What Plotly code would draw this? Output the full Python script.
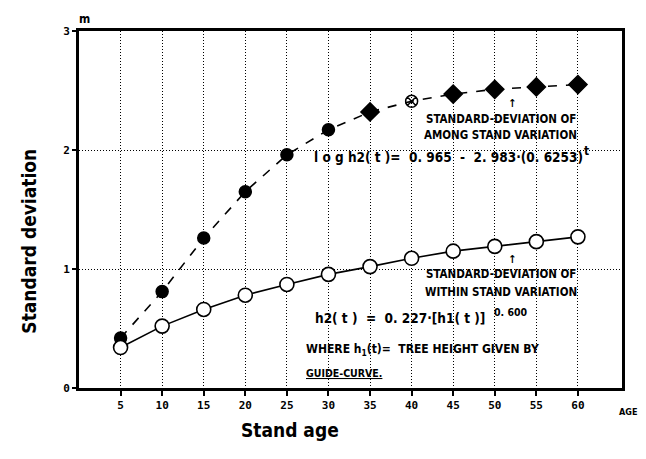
import plotly.graph_objects as go

ages = [5, 10, 15, 20, 25, 30, 35, 40, 45, 50, 55, 60]
among_sd = [0.42, 0.81, 1.26, 1.65, 1.96, 2.17, 2.32, 2.41, 2.47, 2.51, 2.53, 2.55]
within_sd = [0.34, 0.52, 0.66, 0.78, 0.87, 0.955, 1.02, 1.09, 1.15, 1.19, 1.23, 1.27]
x_ticks = [5, 10, 15, 20, 25, 30, 35, 40, 45, 50, 55, 60]
y_ticks = [0, 1, 2, 3]

among_symbols = ["circle"] * 6 + ["diamond"] + ["circle-x-open"] + ["diamond"] * 4
among_sizes = [12] * 6 + [14, 12] + [14] * 4

fig = go.Figure()

fig.add_trace(go.Scatter(
    x=ages, y=among_sd, mode="lines+markers",
    line=dict(color="black", width=1.6, dash="dash"),
    marker=dict(symbol=among_symbols, size=among_sizes, opacity=1,
                color="black", line=dict(color="black", width=1.5)),
    showlegend=False,
))
fig.add_trace(go.Scatter(
    x=ages, y=within_sd, mode="lines+markers",
    line=dict(color="black", width=1.6),
    marker=dict(symbol="circle", size=14, color="white", opacity=1,
                line=dict(color="black", width=1.6)),
    showlegend=False,
))

font_main = "DejaVu Sans Condensed, DejaVu Sans"
font_mono = "DejaVu Sans Mono"

ann = []
def txt(x, y, s, size=11.5, xanchor="left", xref="x", yref="y", **kw):
    ann.append(dict(x=x, y=y, xref=xref, yref=yref, text=s, showarrow=False,
                    xanchor=xanchor, yanchor="middle",
                    font=dict(family=font_main, size=size, color="black"), **kw))

# Among stand annotation
txt(52.1, 2.39, "<b>↑</b>", size=11, xanchor="center")
txt(50.7, 2.26, "<b>STANDARD-DEVIATION OF</b>", xanchor="center")
txt(50.7, 2.13, "<b>AMONG STAND VARIATION</b>", xanchor="center")
txt(28.0, 1.94, "<b>l o g h2( t )=  0. 965  -  2. 983·(0. 6253)</b>", size=13.5)
txt(61.0, 1.99, "<b>t</b>", size=12, xanchor="center")

# Within stand annotation
txt(52.1, 1.08, "<b>↑</b>", size=11, xanchor="center")
txt(50.8, 0.96, "<b>STANDARD-DEVIATION OF</b>", xanchor="center")
txt(50.8, 0.81, "<b>WITHIN STAND VARIATION</b>", xanchor="center")
txt(28.1, 0.59, "<b>h2( t )  =  0. 227·[h1( t )]</b>", size=13.5)
txt(51.9, 0.64, "<b>0. 600</b>", size=10.5, xanchor="center")
txt(27.1, 0.32, "<b>WHERE h<sub>1</sub>(t)=  TREE HEIGHT GIVEN BY</b>", size=12)
txt(27.1, 0.13, "<b><u>GUIDE-CURVE.</u></b>", size=10.5)

ann.append(dict(x=0.011, y=1.035, xref="paper", yref="paper", text="<b>m</b>",
                showarrow=False, xanchor="center", yanchor="middle",
                font=dict(family=font_main, size=12, color="black")))
ann.append(dict(x=1.011, y=-0.066, xref="paper", yref="paper", text="<b>AGE</b>",
                showarrow=False, xanchor="center", yanchor="middle",
                font=dict(family=font_main, size=9, color="black")))
ann.append(dict(x=-0.092, y=0.41, xref="paper", yref="paper",
                text="<b>Standard deviation</b>", textangle=-90,
                showarrow=False, xanchor="center", yanchor="middle",
                font=dict(family=font_main, size=19, color="black")))
ann.append(dict(x=0.389, y=-0.118, xref="paper", yref="paper",
                text="<b>Stand age</b>",
                showarrow=False, xanchor="center", yanchor="middle",
                font=dict(family=font_main, size=19, color="black")))

grid = dict(showgrid=True, gridcolor="black", griddash="1px,2px", gridwidth=1)

fig.update_layout(
    width=638, height=451,
    margin=dict(l=71, r=24, t=23, b=71),
    paper_bgcolor="white", plot_bgcolor="white",
    annotations=ann,
    xaxis=dict(range=[0, 65.3], tickvals=x_ticks, ticktext=[str(v) for v in x_ticks],
               showline=True, linecolor="black", linewidth=3, mirror=True,
               ticks="outside", ticklen=5, tickcolor="black", tickwidth=2,
               tickfont=dict(family=font_mono, size=11, color="black", weight="bold"),
               zeroline=False, **grid),
    yaxis=dict(range=[0, 3], tickvals=y_ticks, ticktext=[str(v) for v in y_ticks],
               showline=True, linecolor="black", linewidth=3, mirror=True,
               ticks="outside", ticklen=4, tickcolor="black", tickwidth=2,
               tickfont=dict(family=font_mono, size=11, color="black", weight="bold"),
               zeroline=False, **grid),
)

fig.write_html("out.html")
